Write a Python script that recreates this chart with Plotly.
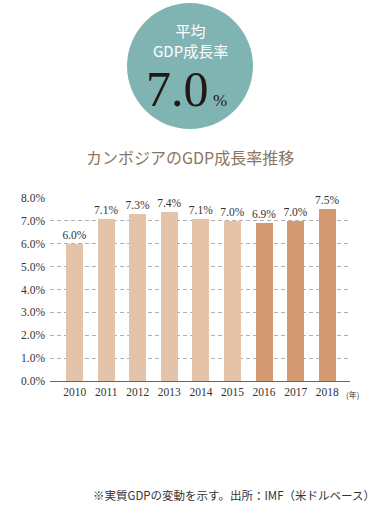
import plotly.graph_objects as go

years = ["2010", "2011", "2012", "2013", "2014", "2015", "2016", "2017", "2018"]
growth = [6.0, 7.1, 7.3, 7.4, 7.1, 7.0, 6.9, 7.0, 7.5]
bar_colors = ["#e4c3a8"] * 6 + ["#d39a72"] * 3
y_ticks = [0, 1, 2, 3, 4, 5, 6, 7, 8]
y_tick_labels = [f"{v:.1f}%" for v in y_ticks]
avg_growth = "7.0"

W, H = 380, 505
L, R, T, B = 50, 30, 198, 124
pw, ph = W - L - R, H - T - B

def px(x):
    return (x - L) / pw

def py(y):
    return (H - B - y) / ph

SERIF = "Liberation Serif, DejaVu Serif, serif"
CJK = "Noto Sans CJK JP, Noto Sans, sans-serif"

fig = go.Figure()
fig.add_trace(go.Bar(
    x=list(range(len(years))), y=growth,
    marker=dict(color=bar_colors, line=dict(width=0)),
    width=0.54,
    text=[f"{v:.1f}%" for v in growth],
    textposition="outside",
    constraintext="none",
    outsidetextfont=dict(family=SERIF, size=11.5, color="#333333"),
    textfont=dict(family=SERIF, size=11.5, color="#333333"),
    cliponaxis=False,
    hoverinfo="skip",
))

fig.update_layout(
    width=W, height=H,
    margin=dict(l=L, r=R, t=T, b=B),
    plot_bgcolor="white", paper_bgcolor="white",
    showlegend=False,
    bargap=0,
    xaxis=dict(
        range=[-0.78, 8.72],
        tickmode="array", tickvals=list(range(len(years))), ticktext=years,
        tickfont=dict(family=SERIF, size=11.5, color="#333333"),
        showgrid=False, zeroline=False,
        showline=True, linecolor="#666666", linewidth=1,
        ticks="", fixedrange=True,
    ),
    yaxis=dict(
        range=[0, 8],
        tickmode="array", tickvals=y_ticks, ticktext=y_tick_labels,
        tickfont=dict(family=SERIF, size=11.5, color="#333333"),
        showgrid=True, gridcolor="#b0b0b0", gridwidth=1, griddash="4px,3px",
        zeroline=False, showline=False, ticks="", ticklabelstandoff=4,
        fixedrange=True,
    ),
)

# circle badge
cx, cy, r = 190, 66, 63
fig.add_shape(type="circle", xref="paper", yref="paper",
              x0=px(cx - r), x1=px(cx + r), y0=py(cy + r), y1=py(cy - r),
              fillcolor="#80b4b3", line=dict(width=0), layer="below")

ann = []
ann.append(dict(text="平均<br>GDP成長率", x=px(190), y=py(40), borderpad=0,
                font=dict(family=CJK, size=15, color="white")))
ann.append(dict(text=avg_growth, x=px(211), y=py(89), xanchor="right",
                font=dict(family=SERIF, size=50, color="#231815")))
ann.append(dict(text="%", x=px(211), y=py(100), xanchor="left",
                font=dict(family=SERIF, size=17, color="#231815")))
ann.append(dict(text="カンボジアのGDP成長率推移", x=px(190), y=py(157),
                font=dict(family=CJK, size=16, color="#8a7560")))
ann.append(dict(text="(年)", x=px(344), y=py(394), xanchor="left",
                font=dict(family=CJK, size=8, color="#333333")))
ann.append(dict(text="※実質GDPの変動を示す。出所：IMF（米ドルベース）", x=px(377), y=py(495), xanchor="right",
                font=dict(family=CJK, size=11.5, color="#333333")))
for a in ann:
    a.setdefault("xanchor", "center")
    a.update(xref="paper", yref="paper", yanchor="middle", showarrow=False)
    fig.add_annotation(**a)

fig.write_html("out.html", config={"displayModeBar": False, "staticPlot": True},
               post_script="document.body.style.margin='0';document.body.style.overflow='hidden';")
